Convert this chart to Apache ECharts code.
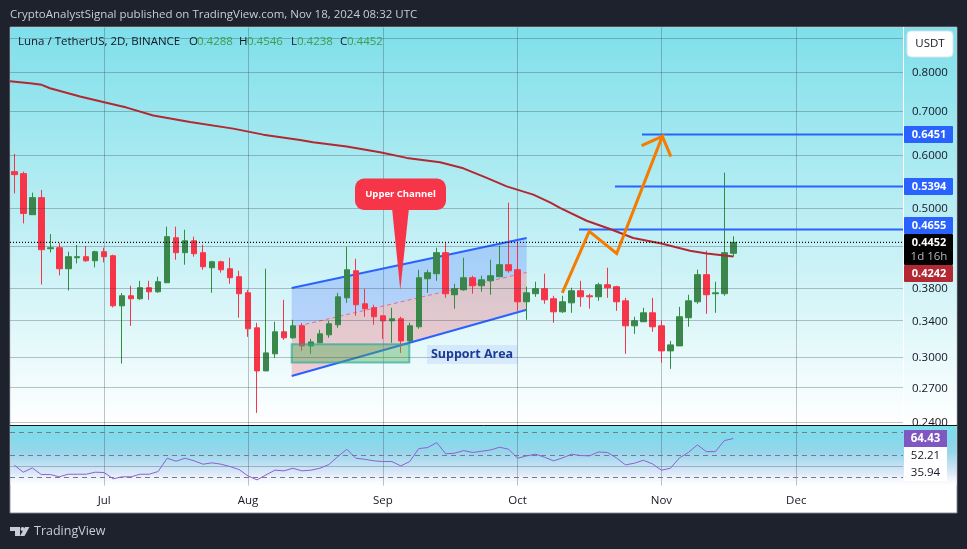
<!DOCTYPE html>
<html>
<head>
<meta charset="utf-8">
<title>Luna / TetherUS</title>
<script src="https://cdn.jsdelivr.net/npm/echarts@6/dist/echarts.min.js"></script>
<style>
    html, body { margin: 0; padding: 0; background: #1e222d; }
    #chart { width: 967px; height: 549px; }
</style>
</head>
<body>
<div id="chart"></div>
<script>
// Candles, one per 2D bar
var candleOpen = [
    0.5679, 0.5640, 0.4897, 0.5193, 0.4356, 0.4371, 0.4066, 0.4223, 0.4238, 0.4179,
    0.4311, 0.4252, 0.3579, 0.3705, 0.3667, 0.3809, 0.3756, 0.3875, 0.4524, 0.4297,
    0.4477, 0.4297, 0.4080, 0.4165, 0.4066, 0.3956, 0.3743, 0.3318, 0.2861, 0.3034,
    0.3273, 0.3206, 0.3341, 0.3118, 0.3151, 0.3239, 0.3353, 0.3679, 0.4038, 0.3604,
    0.3555, 0.3458, 0.3399, 0.3423, 0.3172, 0.3330, 0.3928, 0.3997, 0.4297, 0.3718,
    0.3782, 0.3942, 0.3835, 0.3901, 0.3956, 0.4123, 0.4052, 0.3629, 0.3731, 0.3795,
    0.3667, 0.3506, 0.3616, 0.3769, 0.3705, 0.3692, 0.3848, 0.3822, 0.3641, 0.3341,
    0.3388, 0.3494, 0.3341, 0.3065, 0.3118, 0.3435, 0.3629, 0.3984, 0.3731, 0.3731,
    0.4288
];
var candleClose = [
    0.5621, 0.4919, 0.5193, 0.4341, 0.4371, 0.4066, 0.4238, 0.4238, 0.4179, 0.4311,
    0.4238, 0.3579, 0.3705, 0.3667, 0.3809, 0.3756, 0.3888, 0.4540, 0.4297, 0.4477,
    0.4282, 0.4094, 0.4165, 0.4052, 0.3942, 0.3731, 0.3307, 0.2861, 0.3044, 0.3273,
    0.3206, 0.3341, 0.3118, 0.3161, 0.3250, 0.3365, 0.3692, 0.4052, 0.3592, 0.3543,
    0.3447, 0.3399, 0.3423, 0.3172, 0.3341, 0.3942, 0.4011, 0.4297, 0.3731, 0.3795,
    0.3942, 0.3835, 0.3914, 0.3969, 0.4123, 0.4038, 0.3629, 0.3743, 0.3795, 0.3654,
    0.3506, 0.3629, 0.3769, 0.3692, 0.3692, 0.3848, 0.3809, 0.3629, 0.3341, 0.3399,
    0.3494, 0.3330, 0.3065, 0.3129, 0.3447, 0.3641, 0.3984, 0.3718, 0.3743, 0.4297,
    0.4452
];
var candleLow = [
    0.5270, 0.4752, 0.4897, 0.3852, 0.4301, 0.3974, 0.3773, 0.4141, 0.4165, 0.4085,
    0.4155, 0.3559, 0.2934, 0.3341, 0.3654, 0.3654, 0.3743, 0.3875, 0.4194, 0.4123,
    0.4238, 0.4052, 0.3743, 0.4011, 0.3861, 0.3435, 0.3217, 0.2476, 0.2861, 0.2992,
    0.3183, 0.3194, 0.3065, 0.3034, 0.3151, 0.3206, 0.3318, 0.3616, 0.3458, 0.3447,
    0.3353, 0.3194, 0.3151, 0.3044, 0.3151, 0.3307, 0.3743, 0.3901, 0.3679, 0.3543,
    0.3769, 0.3731, 0.3756, 0.3718, 0.3956, 0.4011, 0.3518, 0.3411, 0.3692, 0.3604,
    0.3376, 0.3494, 0.3494, 0.3567, 0.3543, 0.3641, 0.3679, 0.3518, 0.3034, 0.3250,
    0.3388, 0.3273, 0.2941, 0.2881, 0.3118, 0.3330, 0.3604, 0.3482, 0.3494, 0.3705,
    0.4238
];
var candleHigh = [
    0.6037, 0.5679, 0.5283, 0.5332, 0.4582, 0.4442, 0.4311, 0.4412, 0.4397, 0.4326,
    0.4371, 0.4267, 0.3740, 0.3835, 0.3901, 0.3901, 0.3956, 0.4699, 0.4699, 0.4650,
    0.4540, 0.4417, 0.4179, 0.4179, 0.4223, 0.4038, 0.3782, 0.3376, 0.4066, 0.3388,
    0.3654, 0.3411, 0.3372, 0.3194, 0.3296, 0.3399, 0.3743, 0.4386, 0.4208, 0.3795,
    0.3592, 0.3458, 0.3555, 0.3447, 0.3376, 0.4052, 0.4052, 0.4371, 0.4447, 0.3861,
    0.4223, 0.3969, 0.3969, 0.4194, 0.4402, 0.5104, 0.4447, 0.3822, 0.3888, 0.3997,
    0.3705, 0.3705, 0.3809, 0.3901, 0.3731, 0.3875, 0.4080, 0.3835, 0.3679, 0.3447,
    0.3555, 0.3679, 0.3399, 0.3172, 0.3567, 0.3718, 0.4052, 0.4326, 0.3888, 0.5659,
    0.4546
];

// Moving average, picked at the bends of the red line (bar index, price)
var maIndex = [
    -0.48, 1.74, 3.05, 3.97, 7.31, 10, 12.5, 15.46, 19.55, 24.36, 27.7, 31.79, 33.23, 36.98, 40.69, 43.66,
    47.36, 49.96, 52.56, 54.78, 57.74, 59.6, 60.71, 63.68, 66.28, 68.87, 71.99, 75.18, 77.04, 80
];
var maValues = [
    0.775, 0.7697, 0.7655, 0.7566, 0.7353, 0.7209, 0.7079, 0.6887, 0.6739, 0.6585, 0.645, 0.6334, 0.6282, 0.619, 0.607, 0.5954,
    0.5864, 0.5744, 0.5557, 0.5399, 0.5247, 0.5109, 0.5012, 0.4796, 0.4662, 0.4519, 0.4436, 0.4326, 0.4286, 0.4242
];

// RSI per bar
var rsiValues = [
    40.7, 34.5, 38.3, 32.4, 32.4, 30.4, 32.7, 32.7, 32.7, 34.5,
    34.2, 28.6, 30.4, 30.4, 32.7, 32.7, 35.1, 46.9, 44.3, 46.9,
    44.6, 41.6, 42.8, 41.6, 39.5, 36.9, 31.2, 27.7, 32.1, 36.3,
    35.7, 38.0, 35.7, 36.3, 38.0, 41.3, 48.4, 54.9, 46.9, 46.0,
    44.6, 44.0, 44.0, 40.1, 44.0, 55.5, 56.4, 60.8, 50.8, 51.4,
    53.7, 52.0, 53.1, 54.3, 56.7, 54.9, 46.9, 49.0, 50.5, 47.8,
    44.6, 47.2, 50.5, 49.3, 49.0, 52.5, 52.0, 47.2, 41.0, 42.5,
    45.1, 41.9, 36.3, 38.0, 47.2, 52.0, 58.8, 52.8, 52.8, 62.6,
    64.43
];
var rsiBands = [70, 50, 30];
var rsiGrid = [40];

// Axis ticks
var monthNames = ['Jul', 'Aug', 'Sep', 'Oct', 'Nov', 'Dec'];
var monthIndex = [10, 26, 41, 56, 72, 87];
var priceTicks = [0.8, 0.7, 0.6, 0.5, 0.38, 0.34, 0.3, 0.27, 0.24];
var hiddenTicks = [0.9, 0.44];

// Horizontal target levels
var levelPrices = [0.6451, 0.5394, 0.4655];
var levelStart = [69.84, 66.83, 62.83];
var lastPrice = 0.4452;

// Channel drawn by the author (bar index, prices at both ends)
var channelIndex = [30.86, 57];
var channelUpper = [0.3805, 0.4519];
var channelMiddle = [0.3322, 0.4015];
var channelLower = [0.2812, 0.353];
var supportIndex = [30.86, 43.95];
var supportPrice = [0.3137, 0.2944];

// Orange path with its arrow head
var pathIndex = [60.97, 63.97, 67.02, 72.1, 69.8, 72.1, 73.06];
var pathPrice = [0.3743, 0.4623, 0.4286, 0.6413, 0.6211, 0.6413, 0.598];

var COLOR_UP = '#3f8450';
var COLOR_UP_WICK = '#2f8f3f';
var COLOR_DOWN = '#f63648';
var GRID_LINE = 'rgba(50,60,70,0.3)';
var X_MIN = -0.482;
var X_MAX = 98.88;
var FONT = '"Open Sans"';

var chartDom = document.getElementById('chart');
var chart = echarts.init(chartDom);

function gradientFrom(stops) {
    return new echarts.graphic.LinearGradient(0, 0, 0, 1, stops.map(function (s) {
        return { offset: s[0], color: s[1] };
    }));
}

function zipped(xs, ys) {
    return xs.map(function (x, i) { return [x, ys[i]]; });
}

var candleData = candleOpen.map(function (open, i) {
    return [i, open, candleClose[i], candleLow[i], candleHigh[i]];
});

// Blue and pink channel bands
function renderChannel(params, api) {
    var u0 = api.coord([channelIndex[0], channelUpper[0]]);
    var u1 = api.coord([channelIndex[1], channelUpper[1]]);
    var m0 = api.coord([channelIndex[0], channelMiddle[0]]);
    var m1 = api.coord([channelIndex[1], channelMiddle[1]]);
    var l0 = api.coord([channelIndex[0], channelLower[0]]);
    var l1 = api.coord([channelIndex[1], channelLower[1]]);
    return {
        type: 'group',
        children: [
            { type: 'polygon', shape: { points: [u0, u1, m1, m0] }, style: { fill: 'rgba(60,100,255,0.24)' } },
            { type: 'polygon', shape: { points: [m0, m1, l1, l0] }, style: { fill: 'rgba(242,54,69,0.24)' } },
            { type: 'line', shape: { x1: m0[0], y1: m0[1], x2: m1[0], y2: m1[1] }, style: { stroke: '#ee6a80', lineWidth: 1, lineDash: [4, 3] } },
            { type: 'line', shape: { x1: u0[0], y1: u0[1], x2: u1[0], y2: u1[1] }, style: { stroke: '#2962ff', lineWidth: 2 } },
            { type: 'line', shape: { x1: l0[0], y1: l0[1], x2: l1[0], y2: l1[1] }, style: { stroke: '#2962ff', lineWidth: 2 } }
        ]
    };
}

// Green support box
function renderSupport(params, api) {
    var a = api.coord([supportIndex[0], supportPrice[0]]);
    var b = api.coord([supportIndex[1], supportPrice[1]]);
    return {
        type: 'rect',
        shape: { x: a[0], y: a[1], width: b[0] - a[0], height: b[1] - a[1] },
        style: { fill: 'rgba(76,175,80,0.42)', stroke: 'rgba(38,166,154,0.65)', lineWidth: 2 }
    };
}

// Level lines are plain two point line series
var levelSeries = levelPrices.map(function (price, i) {
    return {
        type: 'line',
        xAxisIndex: 0,
        yAxisIndex: 0,
        data: [[levelStart[i], price], [X_MAX, price]],
        symbol: 'none',
        z: 5,
        lineStyle: { color: '#2962ff', width: 2 },
        silent: true
    };
});

function priceTickLines() {
    var lines = priceTicks.map(function (v) {
        return { yAxis: v, label: { show: true, formatter: v.toFixed(4) } };
    });
    hiddenTicks.forEach(function (v) {
        lines.push({ yAxis: v, label: { show: false } });
    });
    return lines;
}

function sideText(text, y, color, bold) {
    return {
        type: 'text', z: 102, x: 929, y: y,
        style: { text: text, fill: color, font: (bold ? 'bold 11px ' : '11.5px ') + FONT, textAlign: 'center', textVerticalAlign: 'middle' }
    };
}

function sideBox(y, height, color) {
    return { type: 'rect', z: 101, shape: { x: 904, y: y, width: 49, height: height, r: 1 }, style: { fill: color } };
}

function headText(text, x, color) {
    return {
        type: 'text', z: 102, x: x, y: 42,
        style: { text: text, fill: color, font: '11.5px ' + FONT, textVerticalAlign: 'middle' }
    };
}

var option = {
    animation: false,
    backgroundColor: '#1e222d',
    graphic: [
        // panes
        { type: 'rect', z: -10, shape: { x: 10, y: 27, width: 947, height: 486 }, style: { fill: '#ffffff', stroke: 'rgba(130,135,145,0.9)', lineWidth: 1 } },
        { type: 'rect', z: -9, shape: { x: 10.5, y: 27.5, width: 946, height: 397 }, style: { fill: gradientFrom([[0, '#7edfea'], [1, '#ffffff']]) } },
        { type: 'rect', z: -9, shape: { x: 10.5, y: 425.5, width: 946, height: 60 }, style: { fill: gradientFrom([[0, '#7edfea'], [0.2, '#82d9ea'], [0.45, '#98d6ec'], [0.8, '#dde9f8'], [0.87, '#eef3fb'], [1, '#ffffff']]) } },
        // cut the last price label at the pane edge, then the separators
        { type: 'rect', z: 50, shape: { x: 904, y: 425.5, width: 52, height: 4 }, style: { fill: '#7edfea' } },
        { type: 'line', z: 60, shape: { x1: 903.5, y1: 27, x2: 903.5, y2: 425 }, style: { stroke: '#ffffff', lineWidth: 1 } },
        { type: 'line', z: 60, shape: { x1: 10, y1: 425.5, x2: 957, y2: 425.5 }, style: { stroke: '#131722', lineWidth: 1 } },

        // header
        { type: 'text', z: 102, x: 10, y: 15, style: { text: 'CryptoAnalystSignal published on TradingView.com, Nov 18, 2024 08:32 UTC', fill: '#c9ccd4', font: '11.5px ' + FONT, textVerticalAlign: 'middle' } },
        headText('Luna / TetherUS, 2D, BINANCE', 18, '#131722'),
        headText('O', 189, '#131722'), headText('0.4288', 197, '#3f9e4d'),
        headText('H', 239, '#131722'), headText('0.4546', 247, '#3f9e4d'),
        headText('L', 291, '#131722'), headText('0.4238', 297, '#3f9e4d'),
        headText('C', 340, '#131722'), headText('0.4452', 347, '#3f9e4d'),

        // unit button
        { type: 'rect', z: 101, shape: { x: 907, y: 31, width: 46, height: 26, r: 4 }, style: { fill: '#ffffff', stroke: '#d8e4ea', lineWidth: 1 } },
        { type: 'text', z: 102, x: 930, y: 44, style: { text: 'USDT', fill: '#131722', font: '11.5px ' + FONT, textAlign: 'center', textVerticalAlign: 'middle' } },

        // price tags
        sideBox(126, 17, '#2962ff'), sideText('0.6451', 134.5, '#ffffff', true),
        sideBox(178, 17, '#2962ff'), sideText('0.5394', 186.5, '#ffffff', true),
        sideBox(217, 17, '#2962ff'), sideText('0.4655', 225.5, '#ffffff', true),
        sideBox(234, 31, '#000000'), sideText('0.4452', 242.5, '#ffffff', true), sideText('1d 16h', 257, '#b2b5be', false),
        sideBox(265, 17, '#b22833'), sideText('0.4242', 273.5, '#ffffff', true),

        // RSI tags
        { type: 'rect', z: 100, shape: { x: 904, y: 447, width: 43, height: 34 }, style: { fill: '#ffffff' } },
        { type: 'rect', z: 101, shape: { x: 904, y: 430, width: 43, height: 17 }, style: { fill: '#7e57c2' } },
        { type: 'text', z: 102, x: 925.5, y: 438.5, style: { text: '64.43', fill: '#ffffff', font: 'bold 11.5px ' + FONT, textAlign: 'center', textVerticalAlign: 'middle' } },
        { type: 'text', z: 102, x: 925.5, y: 455.5, style: { text: '52.21', fill: '#131722', font: '11.5px ' + FONT, textAlign: 'center', textVerticalAlign: 'middle' } },
        { type: 'text', z: 102, x: 925.5, y: 472.5, style: { text: '35.94', fill: '#131722', font: '11.5px ' + FONT, textAlign: 'center', textVerticalAlign: 'middle' } },

        // callout and support label
        { type: 'polygon', z: 90, shape: { points: [[391.7, 205], [409.3, 205], [400.3, 290]] }, style: { fill: '#f63648' } },
        { type: 'rect', z: 90, shape: { x: 355, y: 178.5, width: 91, height: 31.5, r: 9 }, style: { fill: '#f63648' } },
        { type: 'text', z: 91, x: 400.5, y: 194, style: { text: 'Upper Channel', fill: '#ffffff', font: 'bold 9.5px ' + FONT, textAlign: 'center', textVerticalAlign: 'middle' } },
        { type: 'rect', z: 90, shape: { x: 427, y: 345, width: 90.5, height: 19 }, style: { fill: 'rgba(41,98,255,0.1)' } },
        { type: 'text', z: 91, x: 472, y: 354.5, style: { text: 'Support Area', fill: '#1a3a94', font: 'bold 12.5px ' + FONT, textAlign: 'center', textVerticalAlign: 'middle' } },

        // footer logo
        { type: 'polygon', z: 102, shape: { points: [[10, 527], [20, 527], [20, 536], [15, 536], [15, 531], [10, 531]] }, style: { fill: '#c9ccd4' } },
        { type: 'circle', z: 102, shape: { cx: 22.5, cy: 529, r: 2 }, style: { fill: '#c9ccd4' } },
        { type: 'polygon', z: 102, shape: { points: [[25, 527], [29.5, 527], [24.5, 536], [20, 536]] }, style: { fill: '#c9ccd4' } },
        { type: 'text', z: 102, x: 34, y: 531.5, style: { text: 'TradingView', fill: '#c9ccd4', font: '12.5px ' + FONT, textVerticalAlign: 'middle' } }
    ],
    grid: [
        { left: 10, top: 27.5, width: 893, height: 398 },
        { left: 10, top: 425.5, width: 893, height: 60.2 }
    ],
    xAxis: [
        {
            type: 'value', gridIndex: 0, min: X_MIN, max: X_MAX,
            axisLine: { show: false },
            axisTick: { show: false, customValues: monthIndex },
            axisLabel: { show: false, customValues: monthIndex },
            splitLine: { show: true, lineStyle: { color: GRID_LINE, width: 1 } }
        },
        {
            type: 'value', gridIndex: 1, min: X_MIN, max: X_MAX,
            axisLine: { show: false },
            axisTick: { show: false, customValues: monthIndex },
            axisLabel: {
                show: true,
                customValues: monthIndex,
                margin: 9,
                color: '#131722',
                fontFamily: 'Open Sans',
                fontSize: 11.5,
                hideOverlap: false,
                formatter: function (v) { return monthNames[monthIndex.indexOf(v)]; }
            },
            splitLine: { show: true, lineStyle: { color: GRID_LINE, width: 1 } }
        }
    ],
    yAxis: [
        {
            type: 'log', gridIndex: 0, min: 0.2371, max: 0.9325, position: 'right',
            axisLine: { show: false }, axisTick: { show: false }, axisLabel: { show: false }, splitLine: { show: false }
        },
        {
            type: 'value', gridIndex: 1, min: 22.5, max: 76, position: 'right',
            axisLine: { show: false }, axisTick: { show: false }, axisLabel: { show: false }, splitLine: { show: false }
        }
    ],
    series: [
        {
            // price grid lines and tick labels
            type: 'line', xAxisIndex: 0, yAxisIndex: 0, data: [], z: 1, silent: true,
            markLine: {
                silent: true, symbol: 'none', animation: false,
                lineStyle: { color: GRID_LINE, width: 1, type: 'solid' },
                label: { position: 'end', distance: 9, color: '#131722', fontFamily: 'Open Sans', fontSize: 11.5, offset: [0, 0.5] },
                emphasis: { disabled: true },
                data: priceTickLines()
            }
        },
        {
            type: 'custom', xAxisIndex: 0, yAxisIndex: 0, z: 2, silent: true,
            renderItem: renderChannel,
            data: [zipped(channelIndex, channelUpper)[0]]
        },
        {
            type: 'candlestick', xAxisIndex: 0, yAxisIndex: 0, z: 3, silent: true,
            barWidth: 6,
            encode: { x: 0, y: [1, 2, 3, 4] },
            itemStyle: {
                color: COLOR_UP, color0: COLOR_DOWN,
                borderColor: COLOR_UP_WICK, borderColor0: COLOR_DOWN, borderWidth: 1
            },
            data: candleData
        },
        {
            type: 'custom', xAxisIndex: 0, yAxisIndex: 0, z: 4, silent: true,
            renderItem: renderSupport,
            data: [[supportIndex[0], supportPrice[0]]]
        },
        {
            // moving average
            type: 'line', xAxisIndex: 0, yAxisIndex: 0, z: 6, silent: true,
            data: zipped(maIndex, maValues), symbol: 'none',
            lineStyle: { color: '#b22833', width: 2 }
        },
        {
            // orange projection
            type: 'line', xAxisIndex: 0, yAxisIndex: 0, z: 7, silent: true,
            data: zipped(pathIndex, pathPrice), symbol: 'none',
            lineStyle: { color: '#f57c00', width: 3, join: 'miter' }
        },
        {
            // dotted last price
            type: 'line', xAxisIndex: 0, yAxisIndex: 0, z: 6, silent: true,
            data: [[X_MIN, lastPrice], [X_MAX, lastPrice]], symbol: 'none',
            lineStyle: { color: '#000000', width: 1.3, type: [1, 2] }
        },
        {
            // RSI with its bands
            type: 'line', xAxisIndex: 1, yAxisIndex: 1, z: 5, silent: true,
            data: zipped(rsiValues.map(function (v, i) { return i; }), rsiValues),
            symbol: 'none',
            lineStyle: { color: '#8b62cf', width: 1 },
            markLine: {
                silent: true, symbol: 'none', animation: false, label: { show: false },
                lineStyle: { color: '#787b86', width: 1, type: [5, 4] },
                data: rsiBands.map(function (v) { return { yAxis: v }; }).concat(rsiGrid.map(function (v) {
                    return { yAxis: v, lineStyle: { color: GRID_LINE, type: 'solid', width: 1 } };
                }))
            }
        }
    ].concat(levelSeries)
};

chart.setOption(option);
</script>
</body>
</html>
